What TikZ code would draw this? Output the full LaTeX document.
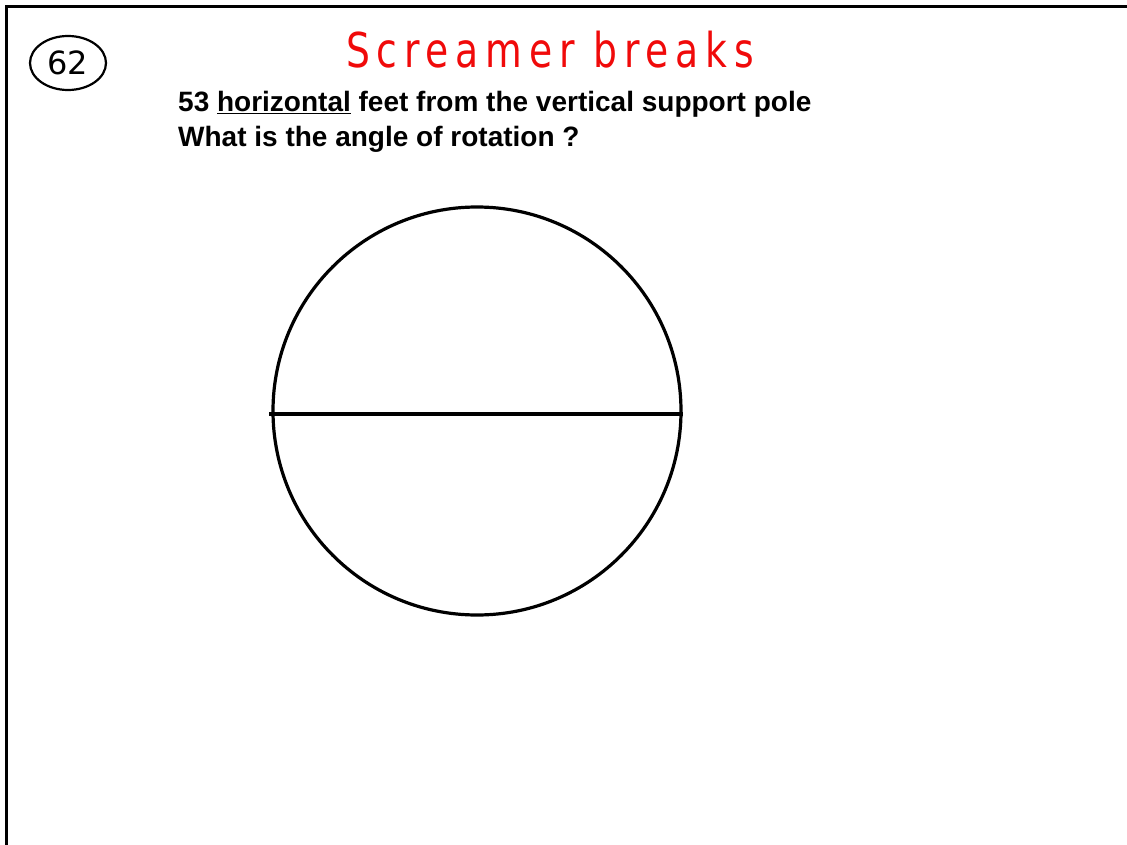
\documentclass[tikz,border=0pt]{standalone}
\usepackage{fontspec}
\setmainfont{Liberation Sans}
\newfontfamily\handfont[LetterSpace=18]{DejaVu Sans}
\usetikzlibrary{shapes.geometric, math, calc}
\definecolor{penred}{RGB}{240,10,10}

\begin{document}
\begin{tikzpicture}[x=1pt,y=-1pt]
\tikzmath{
\R=204;
}
\useasboundingbox (0,0) rectangle (1127,845);

\coordinate (C) at (477,411);

% frame
\draw[line width=3] (1127,7) -- (6,7) -- (6,845);

\node[draw, ellipse, line width=2.2, minimum width=76, minimum height=54, inner sep=0, font=\handfont\fontsize{32}{32}\selectfont] (num) at (68,63) {\addfontfeature{LetterSpace=0}62};

\node[color=penred, anchor=base, xscale=0.785, font=\handfont\fontsize{48}{48}\selectfont] (title) at (550,68) {Screamer breaks};

\node[anchor=base west, inner sep=0, font=\bfseries\fontsize{28}{28}\selectfont] (line1) at (178,112) {53 \underline{horizontal} feet from the vertical support pole};
\node[anchor=base west, inner sep=0, font=\bfseries\fontsize{28}{28}\selectfont] (line2) at (178,147) {What is the angle of rotation ?};

\node[draw, circle, line width=3.2, minimum size=2*\R, inner sep=0] (wheel) at (C) {};
\draw[line width=3.2] ($(wheel.west)+(-2,3)$) -- ($(wheel.east)+(0,3)$);

\end{tikzpicture}
\end{document}
